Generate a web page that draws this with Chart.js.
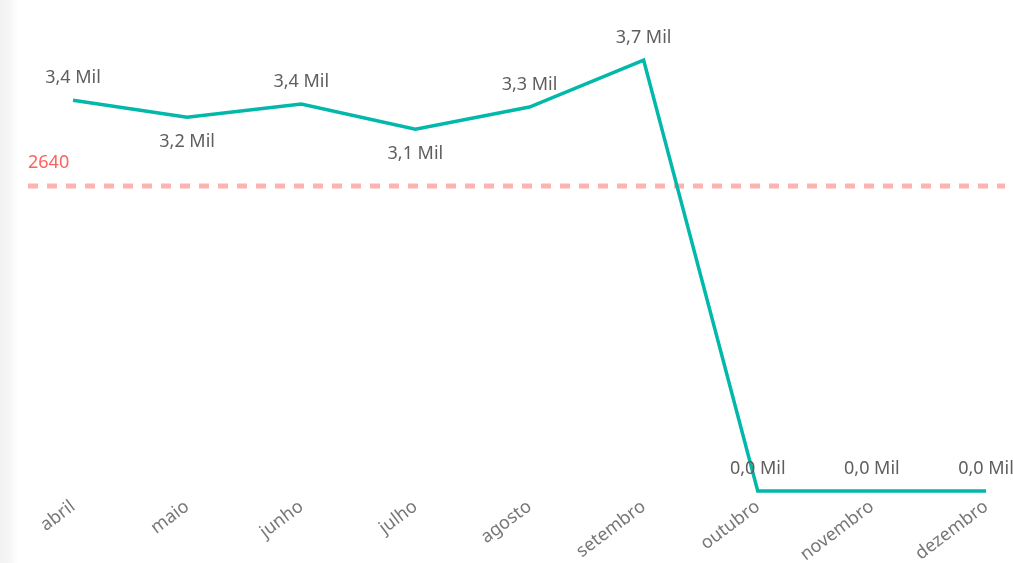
<!DOCTYPE html>
<html>
<head>
<meta charset="utf-8">
<script src="https://cdn.jsdelivr.net/npm/chart.js@4"></script>
<style>
  body { margin: 0; background: #fff; }
  #wrap { position: relative; width: 1013px; height: 563px; }
  #edge { position: absolute; left: 0; top: 0; width: 18px; height: 563px;
          background: linear-gradient(to right, #f2f2f2, #f6f6f6 55%, #fff); }
</style>
</head>
<body>
<div id="wrap">
  <div id="edge"></div>
  <canvas id="chart"></canvas>
</div>
<script>
const months = ['abril', 'maio', 'junho', 'julho', 'agosto', 'setembro', 'outubro', 'novembro', 'dezembro'];
const values = [3384, 3237, 3350, 3133, 3324, 3731, 0, 0, 0];
const target = 2640;

const teal = '#01B8AA';
const gray = '#605E5C';

// data labels: above the point, below when it is a local dip
const pointLabels = {
    id: 'pointLabels',
    afterDatasetsDraw(chart) {
        const ctx = chart.ctx;
        const meta = chart.getDatasetMeta(0);
        ctx.save();
        ctx.font = '18px "Noto Sans"';
        ctx.fillStyle = gray;
        ctx.textAlign = 'center';
        ctx.textBaseline = 'middle';
        meta.data.forEach((pt, i) => {
            const v = values[i];
            const prev = i > 0 ? values[i - 1] : Infinity;
            const next = i < values.length - 1 ? values[i + 1] : Infinity;
            const below = v < prev && v < next;
            const txt = (v / 1000).toFixed(1).replace('.', ',') + ' Mil';
            ctx.fillText(txt, pt.x, below ? pt.y + 25 : pt.y - 22);
        });
        ctx.restore();
    }
};

// dashed target line with its value
const targetLine = {
    id: 'targetLine',
    beforeDatasetsDraw(chart) {
        const ctx = chart.ctx;
        const area = chart.chartArea;
        const y = chart.scales.y.getPixelForValue(target);
        ctx.save();
        ctx.strokeStyle = '#FFB3B0';
        ctx.lineWidth = 5;
        ctx.setLineDash([10, 9]);
        ctx.beginPath();
        ctx.moveTo(area.left - 45, y);
        ctx.lineTo(area.right + 19, y);
        ctx.stroke();
        ctx.setLineDash([]);
        ctx.font = '18px "Noto Sans"';
        ctx.fillStyle = '#FD625E';
        ctx.textAlign = 'left';
        ctx.textBaseline = 'middle';
        ctx.fillText(String(target), area.left - 45, y - 23);
        ctx.restore();
    }
};

new Chart(document.getElementById('chart'), {
    type: 'line',
    data: {
        labels: months,
        datasets: [{
            data: values,
            borderColor: teal,
            borderWidth: 3.5,
            pointRadius: 0,
            tension: 0,
            fill: false,
            clip: false
        }]
    },
    options: {
        responsive: true,
        maintainAspectRatio: false,
        animation: false,
        layout: { padding: { left: 73, right: 27, top: 29, bottom: 0 } },
        plugins: {
            legend: { display: false },
            tooltip: { enabled: false }
        },
        scales: {
            x: {
                offset: false,
                grid: { display: false },
                border: { display: false },
                ticks: {
                    color: '#777777',
                    font: { family: 'Noto Sans', size: 18 },
                    minRotation: 37,
                    maxRotation: 37,
                    padding: -3
                },
                afterFit(scale) { scale.height = 72; }
            },
            y: {
                display: false,
                min: 0,
                max: 4000
            }
        }
    },
    plugins: [targetLine, pointLabels]
});
</script>
</body>
</html>
